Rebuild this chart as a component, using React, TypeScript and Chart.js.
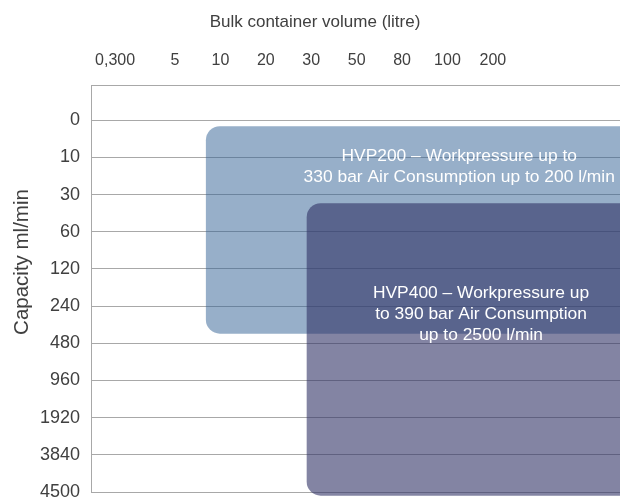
import React, { useEffect, useRef } from 'react';
import { Chart, registerables } from 'chart.js';

Chart.register(...registerables);

// ---- data ----
const xLabels = ['0,300', '5', '10', '20', '30', '50', '80', '100', '200'];
const xTickValues = [-0.32, 1, 2, 3, 4, 5, 6, 7, 8];
const yLabels = ['0', '10', '30', '60', '120', '240', '480', '960', '1920', '3840', '4500'];

const seriesNames = ['HVP200', 'HVP400'];
const rangeXStart = [1.68, 3.9];
const rangeXEnd = [12.5, 12.5];
const rangeYStart = [0.16, 2.23];
const rangeYEnd = [5.74, 10.1];
const labelLines = [
  ['HVP200 – Workpressure up to', '330 bar Air Consumption up to 200 l/min'],
  ['HVP400 – Workpressure up', 'to 390 bar Air Consumption', 'up to 2500 l/min'],
];
const labelX = [7.26, 7.74];
const labelY = [1.26, 5.22];

const xTitle = 'Bulk container volume (litre)';
const yTitle = 'Capacity ml/min';

// ---- styles ----
const FONT = '"Liberation Sans", Arial, sans-serif';
const fills = ['rgba(47,96,148,0.5)', 'rgba(48,50,102,0.6)'];
const GRID = '#a8a8a8';
const TEXT = '#404040';

const overlayPlugin = {
  id: 'overlay',
  beforeDatasetsDraw(chart: any) {
    const { ctx, scales } = chart;
    const xs = scales.x;
    const ys = scales.y;
    ctx.save();
    seriesNames.forEach((_, i) => {
      const x0 = xs.getPixelForValue(rangeXStart[i]);
      const x1 = xs.getPixelForValue(rangeXEnd[i]);
      const y0 = ys.getPixelForValue(rangeYStart[i]);
      const y1 = ys.getPixelForValue(rangeYEnd[i]);
      ctx.beginPath();
      ctx.roundRect(x0, y0, x1 - x0, y1 - y0, 14);
      ctx.fillStyle = fills[i];
      ctx.fill();
    });
    ctx.restore();
  },
  afterDraw(chart: any) {
    const { ctx, scales } = chart;
    const xs = scales.x;
    const ys = scales.y;
    ctx.save();
    ctx.fillStyle = '#ffffff';
    ctx.font = `17.4px ${FONT}`;
    ctx.textAlign = 'center';
    ctx.textBaseline = 'middle';
    labelLines.forEach((lines, i) => {
      const cx = xs.getPixelForValue(labelX[i]);
      const cy = ys.getPixelForValue(labelY[i]);
      const lh = 21;
      lines.forEach((line, j) => {
        ctx.fillText(line, cx, cy + (j - (lines.length - 1) / 2) * lh);
      });
    });
    // axis titles
    ctx.fillStyle = TEXT;
    ctx.font = `17px ${FONT}`;
    ctx.fillText(xTitle, 315, 22);
    ctx.translate(22, 262);
    ctx.rotate(-Math.PI / 2);
    ctx.font = `20.5px ${FONT}`;
    ctx.fillText(yTitle, 0, 0);
    ctx.restore();
  },
};

export default function App() {
  const ref = useRef<HTMLCanvasElement | null>(null);

  useEffect(() => {
    if (!ref.current) return;
    const chart = new Chart(ref.current, {
      type: 'scatter',
      data: { datasets: [{ data: [] }] },
      options: {
        animation: false,
        responsive: false,
        devicePixelRatio: 1,
        layout: { padding: { left: 0, top: 0, right: 0, bottom: 6 } },
        plugins: {
          legend: { display: false },
          tooltip: { enabled: false },
        },
        scales: {
          x: {
            type: 'linear',
            position: 'top',
            min: -0.85,
            max: 10.8,
            afterBuildTicks: (scale: any) => {
              scale.ticks = xTickValues.map((v) => ({ value: v }));
            },
            afterFit: (scale: any) => {
              scale.height = 85;
              scale.paddingLeft = 0;
              scale.paddingRight = 0;
            },
            grid: { display: false, drawTicks: false },
            border: { display: true, color: GRID, width: 1 },
            ticks: {
              autoSkip: false,
              maxRotation: 0,
              padding: 15,
              color: TEXT,
              font: { family: FONT, size: 16 },
              callback: (_v: any, i: number) => xLabels[i],
            },
          },
          y: {
            type: 'linear',
            reverse: true,
            min: -0.95,
            max: 10,
            afterBuildTicks: (scale: any) => {
              scale.ticks = yLabels.map((_, i) => ({ value: i }));
            },
            afterFit: (scale: any) => {
              scale.width = 91;
              scale.paddingTop = 0;
              scale.paddingBottom = 0;
            },
            grid: { color: GRID, lineWidth: 1, drawTicks: false },
            border: { display: true, color: GRID, width: 1 },
            ticks: {
              autoSkip: false,
              padding: 11,
              color: TEXT,
              font: { family: FONT, size: 18 },
              callback: (_v: any, i: number) => yLabels[i],
            },
          },
        },
      },
      plugins: [overlayPlugin],
    } as any);
    return () => chart.destroy();
  }, []);

  return (
    <div style={{ position: 'fixed', left: 0, top: 0, width: 620, height: 498 }}>
      <canvas ref={ref} width={620} height={498} />
    </div>
  );
}
